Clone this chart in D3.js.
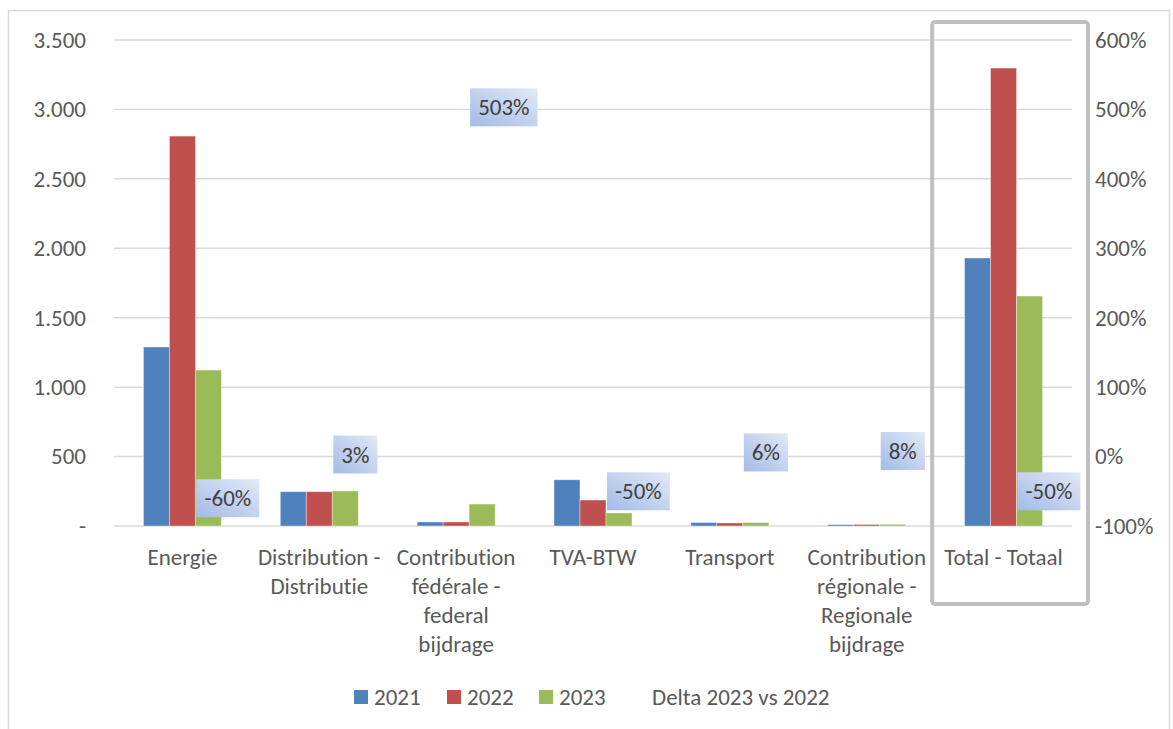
<!DOCTYPE html>
<html>
<head>
<meta charset="utf-8">
<script src="https://cdn.jsdelivr.net/npm/d3@7"></script>
<style>
  body { margin: 0; background: #fff; }
  text { font-family: Calibri, Carlito, Lato, sans-serif; font-variant-ligatures: none; }
</style>
</head>
<body>
<div id="my_dataviz"></div>
<script>

// categories (wrapped the way the labels are broken in the picture)
var categories = ["Energie", "Distribution - Distributie", "Contribution fédérale - federal bijdrage", "TVA-BTW", "Transport", "Contribution régionale - Regionale bijdrage", "Total - Totaal"];
var categoryLines = [
  ["Energie"],
  ["Distribution -", "Distributie"],
  ["Contribution", "fédérale -", "federal", "bijdrage"],
  ["TVA-BTW"],
  ["Transport"],
  ["Contribution", "régionale -", "Regionale", "bijdrage"],
  ["Total - Totaal"]
];

var seriesNames = ["2021", "2022", "2023"];
var values2021 = [1289, 247, 29, 333, 25, 10, 1930];
var values2022 = [2808, 247, 29, 187, 22, 11, 3298];
var values2023 = [1123, 252, 158, 94, 25, 12, 1656];
var deltaName = "Delta 2023 vs 2022";
var delta = [-0.60, 0.03, 5.03, -0.50, 0.06, 0.08, -0.50];

var leftTicks = [0, 500, 1000, 1500, 2000, 2500, 3000, 3500];
var rightTicks = [-1, 0, 1, 2, 3, 4, 5, 6];

var colors = ["#4f81bd", "#c0504d", "#9bbb59"];
var fs = "23px";

var width = 1173, height = 729;
var plot = {left: 114, right: 1072, top: 40, bottom: 526};

var svg = d3.select("#my_dataviz")
  .append("svg")
  .attr("width", width)
  .attr("height", height);

// chart border
svg.append("path")
  .attr("d", "M8.5,729 L8.5,10.5 L1169.5,10.5 L1169.5,729")
  .attr("fill", "none")
  .attr("stroke", "#d9d9d9")
  .attr("stroke-width", 1.5);

var series = [values2021, values2022, values2023];

var x = d3.scaleBand().domain(categories).range([plot.left, plot.right]).padding(0);
var xs = d3.scaleBand().domain(seriesNames).range([-39, 39]).padding(0);
var yL = d3.scaleLinear().domain([0, 3500]).range([plot.bottom, plot.top]);
var yR = d3.scaleLinear().domain([-1, 6]).range([plot.bottom, plot.top]);

// percent with a plain hyphen, like Excel
var pct = function(d) { return d3.format(".0%")(d).replace("\u2212", "-"); };

// gridlines
svg.append("g")
  .selectAll("line")
  .data(leftTicks)
  .enter().append("line")
  .attr("x1", plot.left).attr("x2", plot.right)
  .attr("y1", d => yL(d)).attr("y2", d => yL(d))
  .attr("stroke", "#d9d9d9")
  .attr("stroke-width", 1.5);

// left axis
var fmtL = function(d) { return d === 0 ? "-" : d3.format(",")(d).replace(/,/g, "."); };
svg.append("g")
  .attr("transform", "translate(86,0)")
  .call(d3.axisLeft(yL).tickValues(leftTicks).tickFormat(fmtL).tickSize(0).tickPadding(0))
  .call(g => g.select(".domain").remove())
  .selectAll("text")
  .attr("font-family", "Calibri, Carlito, Lato, sans-serif")
  .attr("font-size", fs)
  .attr("fill", "#595959");

// right axis
svg.append("g")
  .attr("transform", "translate(1095,0)")
  .call(d3.axisRight(yR).tickValues(rightTicks).tickFormat(pct).tickSize(0).tickPadding(0))
  .call(g => g.select(".domain").remove())
  .selectAll("text")
  .attr("font-family", "Calibri, Carlito, Lato, sans-serif")
  .attr("font-size", fs)
  .attr("fill", "#595959");

// bars
var grouped = svg.append("g")
  .selectAll("g")
  .data(series)
  .enter().append("g")
  .attr("fill", (d, i) => colors[i]);

grouped.selectAll("rect")
  .data((d, i) => d.map((v, j) => ({v: v, cat: categories[j], s: seriesNames[i]})))
  .enter().append("rect")
  .attr("x", d => x(d.cat) + x.bandwidth() / 2 + xs(d.s))
  .attr("width", xs.bandwidth())
  .attr("y", d => yL(d.v))
  .attr("height", d => yL(0) - yL(d.v))
  .attr("stroke", "#fff")
  .attr("stroke-opacity", 0.5)
  .attr("stroke-width", 0.75);

// category labels
var catG = svg.append("g")
  .selectAll("text")
  .data(categoryLines)
  .enter().append("text")
  .attr("text-anchor", "middle")
  .attr("font-size", fs)
  .attr("fill", "#595959");
catG.selectAll("tspan")
  .data((d, i) => d.map(l => ({l: l, cx: x(categories[i]) + x.bandwidth() / 2})))
  .enter().append("tspan")
  .attr("x", d => d.cx)
  .attr("y", (d, i) => 557 + i * 29)
  .attr("dy", "0.35em")
  .text(d => d.l);

// highlight box round the total
svg.append("rect")
  .attr("x", x("Total - Totaal") - 3)
  .attr("y", 22)
  .attr("width", x.bandwidth() + 19)
  .attr("height", 582)
  .attr("rx", 3)
  .attr("fill", "none")
  .attr("stroke", "#bfbfbf")
  .attr("stroke-width", 4);

// gradient for the delta labels
var defs = svg.append("defs");
var grad = defs.append("linearGradient")
  .attr("id", "lblGrad")
  .attr("x1", "0%").attr("y1", "100%")
  .attr("x2", "100%").attr("y2", "0%");
grad.append("stop").attr("offset", "0%").attr("stop-color", "#a3bbe6");
grad.append("stop").attr("offset", "100%").attr("stop-color", "#e3e9f6");

// delta labels (invisible line series on the secondary axis)
var lbl = svg.append("g")
  .selectAll("g")
  .data(delta)
  .enter().append("g")
  .attr("transform", (d, i) => "translate(" + (x(categories[i]) + x.bandwidth() / 2 + 14) + "," + yR(d) + ")");

lbl.append("rect").attr("class", "bg");
lbl.append("text")
  .attr("font-size", fs)
  .attr("fill", "#404040")
  .attr("dy", "0.35em")
  .text(d => pct(d));

lbl.each(function() {
  var t = d3.select(this).select("text");
  var w = t.node().getComputedTextLength();
  t.attr("x", 8);
  d3.select(this).select("rect")
    .attr("x", 0).attr("y", -19)
    .attr("width", w + 16).attr("height", 38)
    .attr("fill", "url(#lblGrad)");
});

// legend
var legendX = [354, 447, 539];
var legend = svg.append("g")
  .selectAll("g")
  .data(seriesNames)
  .enter().append("g")
  .attr("transform", (d, i) => "translate(" + legendX[i] + ",697)");
legend.append("rect")
  .attr("x", 0).attr("y", -7)
  .attr("width", 14).attr("height", 14)
  .attr("fill", (d, i) => colors[i]);
legend.append("text")
  .attr("x", 20)
  .attr("dy", "0.35em")
  .attr("font-size", fs)
  .attr("fill", "#595959")
  .text(d => d);

svg.append("text")
  .attr("x", 652).attr("y", 697)
  .attr("dy", "0.35em")
  .attr("font-size", fs)
  .attr("fill", "#595959")
  .text(deltaName);

</script>
</body>
</html>
